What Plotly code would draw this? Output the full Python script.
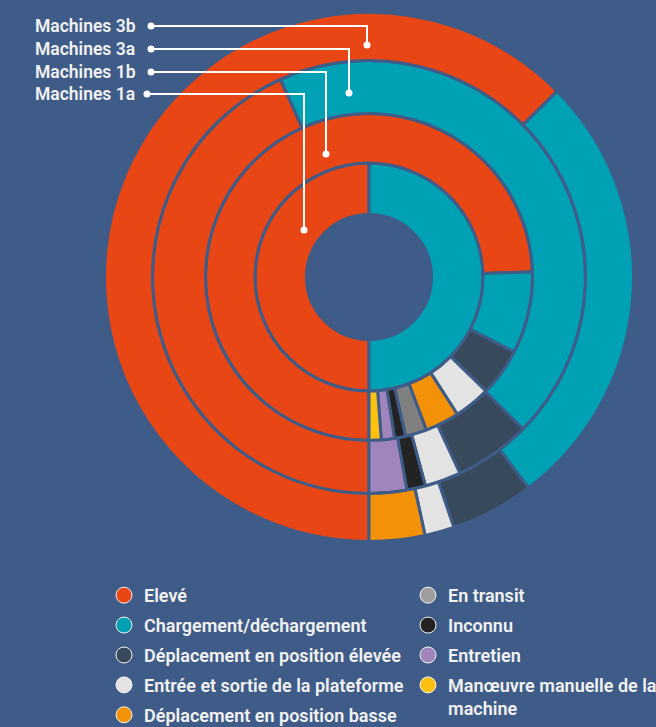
import plotly.graph_objects as go

W, H = 656, 727

categories = [
    "Elevé",
    "Chargement/déchargement",
    "Déplacement en position élevée",
    "Entrée et sortie de la plateforme",
    "Déplacement en position basse",
    "En transit",
    "Inconnu",
    "Entretien",
    "Manœuvre manuelle de la machine",
]
legend_names = categories[:8] + ["Manœuvre manuelle de la<br>machine"]

# share of working time per category (%), one list per machine group
machines_1a = [50.0, 50.0, 0, 0, 0, 0, 0, 0, 0]
machines_1b = [74.5, 8.1, 4.7, 3.6, 3.4, 2.1, 1.1, 1.3, 1.2]
machines_3a = [43.3, 44.1, 5.7, 2.7, 0, 0, 1.4, 2.8, 0]
machines_3b = [62.6, 27.1, 5.1, 1.8, 3.4, 0, 0, 0, 0]

ring_names = ["Machines 3b", "Machines 3a", "Machines 1b", "Machines 1a"]

colors = ["#E84615", "#00A0B5", "#37495A", "#E3E3E3", "#F39208",
          "#808080", "#232323", "#A085BD", "#FDC10F"]
legend_colors = colors[:5] + ["#9E9E9E"] + colors[6:]

BG = "#3E5C87"
CX, CY = 369, 277


def px(x):
    return x / W


def py(y):
    return 1 - y / H


def add_ring(fig, values, r_in, r_out, name):
    labels = [c for c, v in zip(categories, values) if v > 0]
    vals = [v for v in values if v > 0]
    cols = [col for col, v in zip(colors, values) if v > 0]
    fig.add_trace(go.Pie(
        labels=labels,
        values=vals,
        name=name,
        sort=False,
        direction="clockwise",
        rotation=180,
        hole=r_in / r_out,
        textinfo="none",
        showlegend=False,
        marker=dict(colors=cols, line=dict(color=BG, width=3)),
        domain=dict(x=[px(CX - r_out), px(CX + r_out)],
                    y=[py(CY + r_out), py(CY - r_out)]),
    ))


fig = go.Figure()
add_ring(fig, machines_1a, 62.5, 114, "Machines 1a")
add_ring(fig, machines_1b, 114, 163.5, "Machines 1b")
add_ring(fig, machines_3a, 163.5, 216.5, "Machines 3a")
add_ring(fig, machines_3b, 216.5, 264.5, "Machines 3b")

# legend entries (two columns)
for i, (nm, col) in enumerate(zip(legend_names, legend_colors)):
    fig.add_trace(go.Scatter(
        x=[None], y=[None], mode="markers", name=nm,
        marker=dict(symbol="circle", size=18, color=col,
                    line=dict(color="#F2F2F2", width=1)),
        legend="legend" if i < 5 else "legend2",
        legendgroup=str(i),
    ))

# callouts: label y, dot on label side, elbow x, dot in ring y
callouts = [(26, 151, 367, 45), (49, 151, 349, 93), (72, 151, 326, 154), (94, 147, 304, 230)]
shapes = []
annotations = []
for name, (ly, lx, ex, ey) in zip(ring_names, callouts):
    shapes.append(dict(type="path", xref="paper", yref="paper",
                       path=f"M {px(lx)},{py(ly)} L {px(ex)},{py(ly)} L {px(ex)},{py(ey)}",
                       line=dict(color="white", width=2), layer="above"))
    for (dx, dy) in [(lx, ly), (ex, ey)]:
        shapes.append(dict(type="circle", xref="paper", yref="paper",
                           x0=px(dx - 3.5), x1=px(dx + 3.5), y0=py(dy + 3.5), y1=py(dy - 3.5),
                           fillcolor="white", line=dict(width=0), layer="above"))
    annotations.append(dict(text=name, x=px(33), y=py(ly), xref="paper", yref="paper",
                            xanchor="left", yanchor="middle", showarrow=False,
                            font=dict(family="Roboto", size=17.5, color="#F2F2F2", weight=600)))

legend_font = dict(family="Roboto", size=18, color="#F2F2F2", weight=600)
fig.update_layout(
    width=W, height=H,
    margin=dict(l=0, r=0, t=0, b=0, autoexpand=False),
    paper_bgcolor=BG, plot_bgcolor=BG,
    shapes=shapes,
    annotations=annotations,
    legend=dict(x=px(104), y=py(577), xanchor="left", yanchor="top",
                bgcolor="rgba(0,0,0,0)", font=legend_font, tracegroupgap=3.5,
                itemclick=False, itemdoubleclick=False),
    legend2=dict(x=px(408), y=py(577), xanchor="left", yanchor="top",
                 bgcolor="rgba(0,0,0,0)", font=legend_font, tracegroupgap=3.5,
                 valign="top", itemclick=False, itemdoubleclick=False),
    xaxis=dict(visible=False), yaxis=dict(visible=False),
)

# the page body has a default 8px margin; drop it so the chart fills the window
fig.write_html("out.html", config={"displayModeBar": False},
               post_script="document.body.style.margin = '0';")
